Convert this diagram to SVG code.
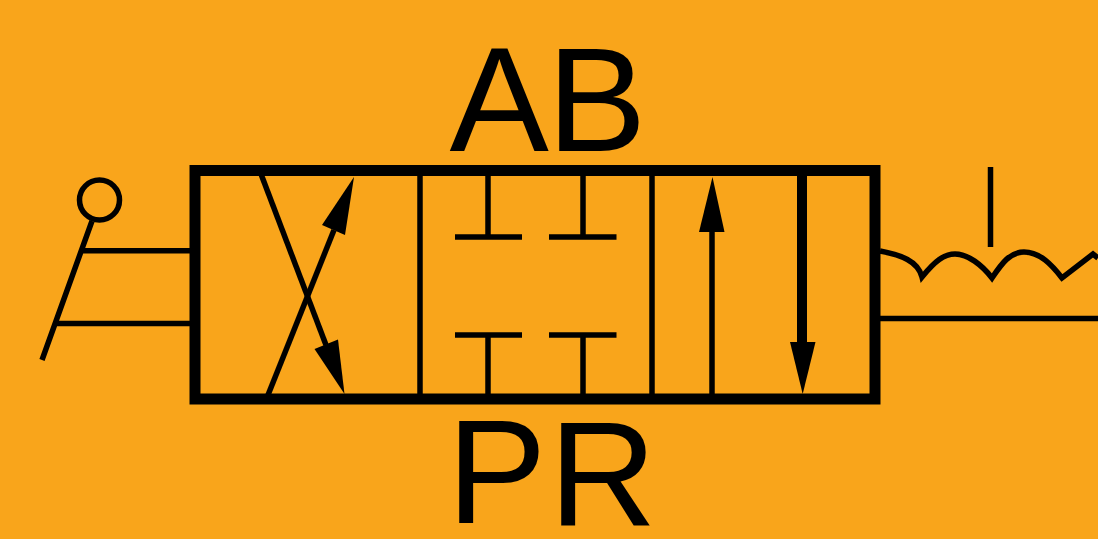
<svg xmlns="http://www.w3.org/2000/svg" width="1098" height="539" viewBox="0 0 1098 539">
<style>
.l{fill:none;stroke:#000;stroke-width:5.500}
.a{fill:#000;stroke:none}
.t{font-family:"Liberation Sans",Arial,sans-serif;font-size:149px;fill:#000}
</style>
<rect width="1098" height="539" fill="#f9a51b"/>
<g id="labels">
<text class="t" x="449.500 547" y="151">AB</text>
<text class="t" x="447 549" y="523 525">PR</text>
</g>
<g id="valve-body">
<rect x="195" y="170.500" width="680" height="228.500" fill="none" stroke="#000" stroke-width="11"/>
<path class="l" d="M420 174V395M652 174V395"/>
</g>
<g id="lever">
<circle class="l" cx="99.500" cy="200" r="20"/>
<path class="l" d="M92 221L42 360M83 250.700H190M57 323.500H190"/>
</g>
<g id="spring">
<path class="l" d="M880 251C901 255 918 261 922 277C935 261 944 254 955 254C968 254 982 265 992 278C1002 263 1010 252 1024 252C1040 252 1052 265 1062 278L1093 254L1098 258"/>
<path class="l" d="M990.500 167V247"/>
<path class="l" d="M880 318.500H1098"/>
</g>
<g id="connectors">
<path class="l" d="M261 174L326 345"/>
<path class="a" d="M344.500 394L314.500 349L338 339.500Z"/>
<path class="l" d="M268 395L334 230"/>
<path class="a" d="M354 177L345 235L322 225Z"/>
<path class="l" d="M488 174V237M455 237H522M583 174V237M549 237H616.500"/>
<path class="l" d="M488 395V335M455 335H522M583 395V335M549 335H616.500"/>
<path class="l" d="M712 395V230"/>
<path class="a" d="M712.500 177L724.500 232H699Z"/>
<path class="l" d="M802 174V345" style="stroke-width:10"/>
<path class="a" d="M802.700 394L790 342H815.500Z"/>
</g>
</svg>
